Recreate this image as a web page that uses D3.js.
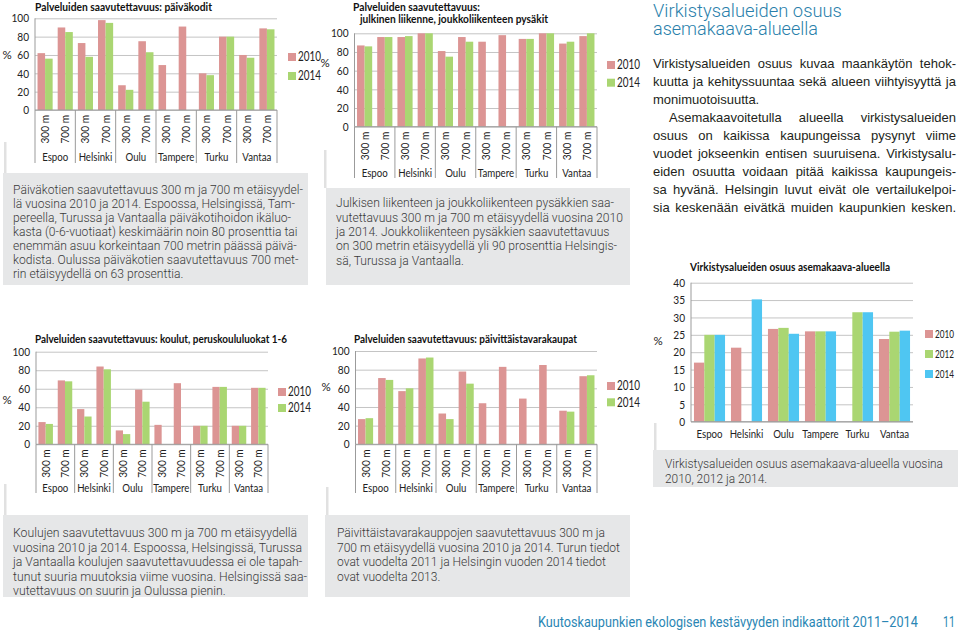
<!DOCTYPE html>
<html><head><meta charset="utf-8">
<script src="https://cdn.jsdelivr.net/npm/d3@7"></script>
<style>body{margin:0;background:#fff}</style>
</head><body>
<svg id="c" width="960" height="642"></svg>
<script>
// ---------- DATA ----------
const cities = ["Espoo","Helsinki","Oulu","Tampere","Turku","Vantaa"];
const distances = ["300 m","700 m"];
const years2 = ["2010","2014"];
const years3 = ["2010","2012","2014"];
const pctTicks = [0,20,40,60,80,100];
const virkTicks = [0,5,10,15,20,25,30,35,40];

// order: Espoo 300, Espoo 700, Helsinki 300, Helsinki 700, ...
const paivakodit2010 = [62,90, 73,98, 27,75, 49,91, 40,80, 60,89];
const paivakodit2014 = [56,85, 58,95, 22,63, null,null, 38,80, 57,88];
const liikenne2010   = [87,96, 96,100, 81,96, 91,98, 94,100, 89,97];
const liikenne2014   = [86,96, 97,100, 75,91, null,null, 94,100, 91,100];
const koulut2010     = [24,69, 38,84, 15,59, 21,66, 20,62, 20,61];
const koulut2014     = [22,68, 30,81, 11,46, null,null, 20,62, 20,61];
const kaupat2010     = [27,71, 57,92, 33,78, 44,83, 49,85, 36,73];
const kaupat2014     = [28,69, 60,93, 27,65, null,null, null,null, 35,74];
const virkistys2010  = [17, 21.3, 26.7, 26, null, 23.8];
const virkistys2012  = [25, null, 27, 26, 31.5, 25.9];
const virkistys2014  = [25, 35.2, 25.3, 26, 31.5, 26.2];

const caption1 = ["Päiväkotien saavutettavuus 300 m ja 700 m etäisyydel-",
 "lä vuosina 2010 ja 2014. Espoossa, Helsingissä, Tam-",
 "pereella, Turussa ja Vantaalla päiväkotihoidon ikäluo-",
 "kasta (0-6-vuotiaat) keskimäärin noin 80 prosenttia tai",
 "enemmän asuu korkeintaan 700 metrin päässä päivä-",
 "kodista. Oulussa päiväkotien saavutettavuus 700 met-",
 "rin etäisyydellä on 63 prosenttia."];
const caption2 = ["Julkisen liikenteen ja joukkoliikenteen pysäkkien saa-",
 "vutettavuus 300 m ja 700 m etäisyydellä vuosina 2010",
 "ja 2014. Joukkoliikenteen pysäkkien saavutettavuus",
 "on 300 metrin etäisyydellä yli 90 prosenttia Helsingis-",
 "sä, Turussa ja Vantaalla."];
const caption3 = ["Koulujen saavutettavuus 300 m ja 700 m etäisyydellä",
 "vuosina 2010 ja 2014. Espoossa, Helsingissä, Turussa",
 "ja Vantaalla koulujen saavutettavuudessa ei ole tapah-",
 "tunut suuria muutoksia viime vuosina. Helsingissä saa-",
 "vutettavuus on suurin ja Oulussa pienin."];
const caption4 = ["Päivittäistavarakauppojen saavutettavuus 300 m ja",
 "700 m etäisyydellä vuosina 2010 ja 2014. Turun tiedot",
 "ovat vuodelta 2011 ja Helsingin vuoden 2014 tiedot",
 "ovat vuodelta 2013."];
const caption5 = ["Virkistysalueiden osuus asemakaava-alueella vuosina",
 "2010, 2012 ja 2014."];
const heading = ["Virkistysalueiden osuus","asemakaava-alueella"];
const paragraph = [
 "Virkistysalueiden osuus kuvaa maankäytön tehok-",
 "kuutta ja kehityssuuntaa sekä alueen viihtyisyyttä ja",
 "monimuotoisuutta.",
 "Asemakaavoitetulla alueella virkistysalueiden",
 "osuus on kaikissa kaupungeissa pysynyt viime",
 "vuodet jokseenkin entisen suuruisena. Virkistysalu-",
 "eiden osuutta voidaan pitää kaikissa kaupungeis-",
 "sa hyvänä. Helsingin luvut eivät ole vertailukelpoi-",
 "sia keskenään eivätkä muiden kaupunkien kesken."];
const footer = "Kuutoskaupunkien ekologisen kestävyyden indikaattorit 2011–2014";
const pageNo = "11";

// ---------- STYLE ----------
const PINK = "#dc9594", GREEN = "#aad672", BLUE = "#4fc6f2";
const CH_FONT = "Lato, 'Open Sans', sans-serif";
const CAP_FONT = "Roboto, 'Liberation Sans', sans-serif";
const svg = d3.select("#c");

function condense(sel, f){ sel.each(function(){ const w=this.getComputedTextLength(); this.setAttribute("textLength", w*f); this.setAttribute("lengthAdjust","spacingAndGlyphs"); }); }
function fitTo(sel, target){ sel.each(function(){ this.setAttribute("textLength", target); this.setAttribute("lengthAdjust","spacingAndGlyphs"); }); }
// horizontal squeeze through a transform, so the real box matches what is drawn
function squeezeTo(sel, x, y, target){ sel.each(function(){ const w=this.getComputedTextLength(); this.setAttribute("transform", `translate(${x},${y}) scale(${target/w},1)`); }); }

const subCats = cities.flatMap(c => distances.map(d => c + " " + d));

const charts = [
 {title:["Palveluiden saavutettavuus: päiväkodit"], tX:[35], tY:[11], tW:[177],
  series:[paivakodit2010,paivakodit2014], names:years2, colors:[PINK,GREEN], sub:true, max:100, ticks:pctTicks,
  x0:35, x1:277, yTop:18.3, yBot:110, pad:0.25, pctX:7, pctY:55, legX:288, legY:[57,76], cityY:157, sepB:163,
  gray:[5,142,173], legW:23, legF:12.5},
 {title:["Palveluiden saavutettavuus:","julkinen liikenne, joukkoliikenteen pysäkit"], tX:[353,360], tY:[10.7,23.3], tW:[127,188],
  series:[liikenne2010,liikenne2014], names:years2, colors:[PINK,GREEN], sub:true, max:100, ticks:pctTicks,
  x0:354.5, x1:597, yTop:33.3, yBot:126.7, pad:0.25, pctX:325, pctY:63, legX:607, legY:[65,82.7], cityY:173, sepB:178,
  gray:[325,150,188], legW:23, legF:12.5},
 {title:["Palveluiden saavutettavuus: koulut, peruskoululuokat 1-6"], tX:[35], tY:[342.5], tW:[252],
  series:[koulut2010,koulut2014], names:years2, colors:[PINK,GREEN], sub:true, max:100, ticks:pctTicks,
  x0:36, x1:268, yTop:351.7, yBot:444.3, pad:0.25, pctX:7, pctY:400, legX:278, legY:[392,408], cityY:488, sepB:493,
  gray:[5,484,515], legW:23, legF:12.5},
 {title:["Palveluiden saavutettavuus: päivittäistavarakaupat"], tX:[354], tY:[342.5], tW:[223],
  series:[kaupat2010,kaupat2014], names:years2, colors:[PINK,GREEN], sub:true, max:100, ticks:pctTicks,
  x0:355.5, x1:597, yTop:351, yBot:444.3, pad:0.25, pctX:326, pctY:386.7, legX:607, legY:[386,402.3], cityY:488, sepB:493,
  gray:[327,487,515], legW:23, legF:12.5},
 {title:["Virkistysalueiden osuus asemakaava-alueella"], tX:[690], tY:[271], tW:[200],
  series:[virkistys2010,virkistys2012,virkistys2014], names:years3, colors:[PINK,GREEN,BLUE], sub:false, max:40, ticks:virkTicks,
  x0:691, x1:913, yTop:282.7, yBot:421.7, pad:0.16, pctX:658, pctY:341, legX:925, legY:[334,354,374], cityY:434, sepB:null,
  gray:[655,423,450], legW:19, legF:11.5}
];

function drawChart(c){
  const g = svg.append("g");
  g.append("rect").attr("x",c.gray[0]-1).attr("y",c.gray[1]).attr("width",2.5).attr("height",c.gray[2]-c.gray[1]).attr("fill","#e1e1e1");
  const cats = c.sub ? subCats : cities;
  const y = d3.scaleLinear().domain([0,c.max]).range([c.yBot,c.yTop]);
  const x = d3.scaleBand().domain(cats).range([c.x0,c.x1]).paddingInner(c.pad).paddingOuter(c.pad/2);
  const xs = d3.scaleBand().domain(c.names).range([0,x.bandwidth()]);
  const ga = g.append("g").attr("transform",`translate(${c.x0},0)`)
    .call(d3.axisLeft(y).tickValues(c.ticks).tickSize(-(c.x1-c.x0)).tickPadding(6));
  ga.select(".domain").remove();
  ga.selectAll(".tick line").attr("stroke","#c4c4c4");
  ga.selectAll(".tick text").attr("font-family",CH_FONT).attr("font-size",11.5).attr("fill","#222").call(condense,0.88);
  g.append("line").attr("x1",c.x0).attr("x2",c.x0).attr("y1",c.yTop).attr("y2",c.yBot).attr("stroke","#9b9b9b");
  c.series.forEach((s,si)=>{
    g.append("g").selectAll("rect").data(cats.map((k,i)=>({k,v:s[i]})).filter(d=>d.v!=null)).join("rect")
      .attr("x",d=>x(d.k)+xs(c.names[si])).attr("width",xs.bandwidth())
      .attr("y",d=>y(d.v)).attr("height",d=>y(0)-y(d.v)).attr("fill",c.colors[si]);
  });
  g.append("line").attr("x1",c.x0).attr("x2",c.x1).attr("y1",y(0)).attr("y2",y(0)).attr("stroke","#9b9b9b");
  const cityW = (c.x1-c.x0)/cities.length;
  if(c.sub){
    g.append("g").selectAll("text").data(cats).join("text")
      .attr("transform",d=>`translate(${x(d)+x.bandwidth()/2},${c.yBot+5}) rotate(-90)`)
      .attr("dy","0.35em").attr("text-anchor","end")
      .attr("font-family",CH_FONT).attr("font-size",11.5).attr("fill","#222")
      .text(d=>d.split(" ").slice(1).join(" ")).call(condense,0.88);
    g.append("g").selectAll("line").data(d3.range(cities.length+1)).join("line")
      .attr("x1",i=>c.x0+i*cityW).attr("x2",i=>c.x0+i*cityW)
      .attr("y1",c.yBot).attr("y2",c.sepB).attr("stroke","#9b9b9b");
    g.append("g").selectAll("text").data(cities).join("text")
      .attr("x",(d,i)=>c.x0+(i+0.5)*cityW).attr("y",c.cityY).attr("dy","0.35em").attr("text-anchor","middle")
      .attr("font-family",CH_FONT).attr("font-size",11.5).attr("fill","#222").text(d=>d).call(condense,0.84);
  } else {
    g.append("g").selectAll("text").data(cities).join("text")
      .attr("x",d=>x(d)+x.bandwidth()/2).attr("y",c.cityY).attr("dy","0.35em").attr("text-anchor","middle")
      .attr("font-family",CH_FONT).attr("font-size",11.5).attr("fill","#222").text(d=>d).call(condense,0.84);
  }
  c.title.forEach((t,i)=>{
    g.append("text").attr("x",c.tX[i]).attr("y",c.tY[i]).attr("font-family",CH_FONT).attr("font-weight","bold")
      .attr("font-size",11.5).attr("fill","#111").text(t).call(fitTo,c.tW[i]);
  });
  g.append("text").attr("x",c.pctX).attr("y",c.pctY).attr("dy","0.35em").attr("text-anchor","middle")
    .attr("font-family",CH_FONT).attr("font-size",11.5).attr("fill","#222").text("%");
  const lg = g.append("g").selectAll("g").data(c.names).join("g")
    .attr("transform",(d,i)=>`translate(${c.legX},${c.legY[i]})`);
  lg.append("rect").attr("x",0).attr("y",-4).attr("width",8).attr("height",8).attr("fill",(d,i)=>c.colors[i]);
  lg.append("text").attr("dy","0.35em").attr("font-family",CH_FONT)
    .attr("font-size",c.legF).attr("fill","#222").text(d=>d)
    .each(function(){ squeezeTo(d3.select(this), 10, 0, c.legW); });
}
charts.forEach(drawChart);

// ---------- caption boxes ----------
const boxes = [
 {lines:caption1, x:3, y:173, w:305, h:112, tx:13, ty:189.5, lh:14, ref:0, refW:290},
 {lines:caption2, x:326, y:188, w:304, h:97, tx:336, ty:203, lh:14.3, ref:1, refW:287},
 {lines:caption3, x:3, y:515, w:305, h:82, tx:13, ty:533, lh:14.5, ref:3, refW:294},
 {lines:caption4, x:325, y:515, w:305, h:82, tx:337, ty:533, lh:14.5, ref:1, refW:283},
 {lines:caption5, x:653, y:450, w:305, h:37, tx:665, ty:464, lh:15, ref:0, refW:278}
];
boxes.forEach(b=>{
  const g = svg.append("g");
  g.append("rect").attr("x",b.x).attr("y",b.y).attr("width",b.w).attr("height",b.h).attr("fill","#e6e7e8");
  const ts = g.selectAll("text").data(b.lines).join("text")
    .attr("x",b.tx).attr("y",(d,i)=>b.ty+i*b.lh).attr("dy","0.35em")
    .attr("font-family",CAP_FONT).attr("font-weight",300).attr("font-size",12.5).attr("fill","#3a3a3a").text(d=>d);
  const f = b.refW / ts.nodes()[b.ref].getComputedTextLength();
  ts.call(condense,f);
});

// ---------- heading + paragraph ----------
svg.selectAll(".hd").data(heading).join("text").attr("class","hd")
  .attr("font-family",CAP_FONT).attr("font-weight",300)
  .attr("font-size",19).attr("fill","#2a7fab").text(d=>d)
  .each(function(d,i){ squeezeTo(d3.select(this), 653, 17+i*18, [189,165][i]); });

const justified = [true,true,false,true,true,true,true,true,true];
svg.selectAll(".pg").data(paragraph).join("text").attr("class","pg")
  .attr("x",(d,i)=>i===3?669:653).attr("y",(d,i)=>67.5+i*18.12)
  .attr("font-family","'Liberation Sans', Arial, sans-serif").attr("font-size",13).attr("fill","#231f20").text(d=>d)
  .each(function(d,i){
    if(!justified[i]) return;
    const target = 956 - (i===3?669:653);
    const w = this.getComputedTextLength();
    const spaces = (d.match(/ /g)||[]).length;
    if(w < target && spaces>0){ this.setAttribute("word-spacing", (target-w)/spaces); }
    else { this.setAttribute("textLength",target); this.setAttribute("lengthAdjust","spacingAndGlyphs"); }
  });

// ---------- footer ----------
svg.append("text").attr("font-family",CAP_FONT).attr("font-size",14.5)
  .attr("fill","#2a86b4").text(footer).call(squeezeTo,538,627,380);
svg.append("text").attr("font-family",CAP_FONT).attr("font-size",14.5)
  .attr("fill","#2a86b4").text(pageNo).call(squeezeTo,943,627,12);
</script>
</body></html>
